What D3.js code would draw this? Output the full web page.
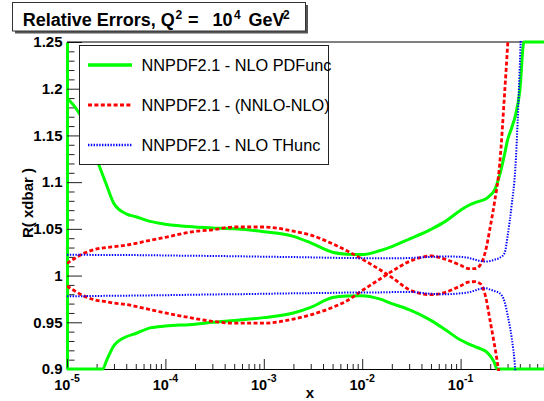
<!DOCTYPE html>
<html><head><meta charset="utf-8">
<script src="https://cdn.jsdelivr.net/npm/d3@7"></script>
<style>
body{margin:0;background:#fff}
svg{display:block}
text{font-family:"Liberation Sans",Arial,Helvetica,sans-serif}
</style>
</head><body>
<svg id="c" width="544" height="401"></svg>
<script>
// ---------- data ----------
const xGrid = [1e-5,1.5e-5,2e-5,2.5e-5,3e-5,4e-5,5e-5,7e-5,1e-4,2e-4,3e-4,5e-4,1e-3,2e-3,3e-3,5e-3,7e-3,1e-2,1.5e-2,2e-2,3e-2,5e-2,7e-2,0.1,0.12,0.14,0.16,0.18,0.2,0.22,0.25,0.28,0.3,0.33,0.36,0.4,0.45,0.5,0.7,1.0];
const pdfUpper = [1.190,1.163,1.125,1.098,1.077,1.066,1.063,1.058,1.055,1.052,1.051,1.050,1.047,1.042,1.035,1.025,1.0228,1.0225,1.0265,1.031,1.039,1.0495,1.058,1.070,1.075,1.078,1.080,1.082,1.086,1.091,1.108,1.13,1.145,1.158,1.171,1.198,1.262,1.40,1.9,2.5];
const pdfLower = [0.78,0.84,0.885,0.908,0.925,0.9345,0.938,0.944,0.946,0.948,0.950,0.952,0.955,0.960,0.966,0.9765,0.9782,0.9785,0.975,0.970,0.9635,0.952,0.942,0.931,0.927,0.924,0.9215,0.919,0.914,0.907,0.893,0.86,0.83,0.8,0.78,0.75,0.7,0.65,0.5,0.3];
const nnloA = [1.013,1.024,1.0285,1.030,1.031,1.0326,1.0345,1.0378,1.041,1.0473,1.049,1.052,1.052,1.0475,1.0433,1.034,1.0265,1.0175,1.0065,0.998,0.985,0.9795,0.982,0.989,0.993,0.9935,0.991,0.977,0.951,0.927,0.890,0.85,0.8,0.75,0.7,0.6,0.5,0.4,0.3,0.2];
const nnloB = [0.9888,0.978,0.9735,0.972,0.9705,0.969,0.967,0.9635,0.960,0.954,0.951,0.949,0.949,0.9535,0.958,0.966,0.973,0.984,0.996,1.0045,1.015,1.021,1.0175,1.011,1.0075,1.0075,1.012,1.027,1.052,1.077,1.120,1.195,1.245,1.32,1.4,1.5,1.6,1.7,2.0,2.5];
const thUpper = [1.0222,1.0222,1.0221,1.0221,1.022,1.022,1.0219,1.0218,1.0215,1.0212,1.021,1.0207,1.0202,1.0198,1.0195,1.019,1.0188,1.0186,1.0185,1.0185,1.0188,1.020,1.0205,1.020,1.019,1.017,1.0155,1.015,1.0155,1.017,1.019,1.024,1.042,1.075,1.115,1.226,1.4,1.6,2.0,2.5];
const thLower = [0.978,0.978,0.9782,0.9783,0.9784,0.9785,0.9786,0.9788,0.979,0.9795,0.9798,0.980,0.9805,0.981,0.9812,0.9815,0.9818,0.982,0.982,0.9823,0.9825,0.9805,0.980,0.981,0.982,0.984,0.986,0.9865,0.985,0.9835,0.981,0.972,0.958,0.934,0.898,0.8,0.7,0.6,0.4,0.2];

const yMajor = [0.9,0.95,1.0,1.05,1.1,1.15,1.2,1.25];
const yMajorLabels = ["0.9","0.95","1","1.05","1.1","1.15","1.2","1.25"];
const xDecades = [1e-5,1e-4,1e-3,1e-2,1e-1];
const xDecadeExp = ["-5","-4","-3","-2","-1"];
const legendLabels = ["NNPDF2.1 - NLO PDFunc","NNPDF2.1 - (NNLO-NLO)","NNPDF2.1 - NLO THunc"];
const titleText = "Relative Errors, Q";

// ---------- setup ----------
const svg = d3.select("#c");
const x = d3.scaleLog().domain([1e-5,1]).range([67,559]);
const y = d3.scaleLinear().domain([0.9,1.25]).range([369,42]);
const GREEN="#00ff00", RED="#ff0000", BLUE="#0000ff";
const FONT='"Liberation Sans",Arial,Helvetica,sans-serif';

svg.append("defs").append("clipPath").attr("id","frame")
  .append("rect").attr("x",x.range()[0]).attr("y",y(1.25)-2)
  .attr("width",x.range()[1]-x.range()[0]).attr("height",y(0.9)-y(1.25)+4);

// y axis minors
const yMinor = d3.range(0.9,1.2501,0.01).map(v=>+v.toFixed(2)).filter(v=>!yMajor.some(m=>Math.abs(m-v)<1e-6));
svg.append("g").attr("transform","translate(67,0)")
  .call(d3.axisLeft(y).tickValues(yMinor).tickSize(-7.5).tickSizeOuter(0).tickFormat(""))
  .call(g=>g.select(".domain").remove())
  .call(g=>g.selectAll("line").attr("stroke","#222"));
const yAx = svg.append("g").attr("transform","translate(67,0)")
  .call(d3.axisLeft(y).tickValues(yMajor).tickSize(-15).tickSizeOuter(0).tickPadding(4.5)
        .tickFormat((d,i)=>yMajorLabels[i]));
yAx.selectAll("line").attr("stroke","#222");
yAx.selectAll("text").attr("font-family",FONT).attr("font-weight","bold").attr("font-size",15).attr("fill","#000");
yAx.select(".domain").attr("stroke",GREEN).attr("stroke-width",3);

// x axis
const xMinor = [];
xDecades.forEach(d=>{for(let k=2;k<=9;k++) xMinor.push(d*k);});
svg.append("g").attr("transform","translate(0,369)")
  .call(d3.axisBottom(x).tickValues(xMinor).tickSize(-5).tickSizeOuter(0).tickFormat(""))
  .call(g=>g.select(".domain").remove())
  .call(g=>g.selectAll("line").attr("stroke","#222"));
const xAx = svg.append("g").attr("transform","translate(0,369)")
  .call(d3.axisBottom(x).tickValues(xDecades).tickSize(-10).tickSizeOuter(0).tickFormat(""));
xAx.selectAll("line").attr("stroke","#222");
xAx.select(".domain").attr("stroke","#000");

const xl = svg.append("g").selectAll("text").data(xDecades).join("text")
  .attr("x",d=>x(d)).attr("y",390).attr("text-anchor","middle")
  .attr("font-family",FONT).attr("font-weight","bold").attr("font-size",14.5);
xl.append("tspan").text("10");
xl.append("tspan").attr("dy",-8).attr("font-size",10.5).text((d,i)=>xDecadeExp[i]);

// top frame line
svg.append("line").attr("x1",x.range()[0]).attr("x2",x.range()[1])
  .attr("y1",y(1.25)).attr("y2",y(1.25)).attr("stroke","#000").attr("stroke-width",1);

// axis titles
svg.append("text").attr("x",310).attr("y",398).attr("text-anchor","middle")
  .attr("font-family",FONT).attr("font-weight","bold").attr("font-size",15).text("x");
svg.append("text").attr("transform","translate(33,203) rotate(-90)").attr("text-anchor","middle")
  .attr("font-family",FONT).attr("font-weight","bold").attr("font-size",15).text("R( xdbar )");

// ---------- curves ----------
// PDF band edges are drawn along the frame where they leave it (ROOT style);
// the other curves are simply clipped at the frame.
function framePts(xs, ys){
  const top=y(1.25), bot=y(0.9);
  const pts = xs.map((v,i)=>[x(v), y(ys[i])]);
  const out=[];
  const cl = p=>[p[0], Math.max(top, Math.min(bot, p[1]))];
  for(let i=0;i<pts.length;i++){
    if(i>0){
      const a=pts[i-1], b=pts[i];
      const cr=[];
      [top,bot].forEach(e=>{
        if((a[1]-e)*(b[1]-e)<0){const t=(e-a[1])/(b[1]-a[1]); cr.push([a[0]+t*(b[0]-a[0]),e,t]);}
      });
      cr.sort((p,q)=>p[2]-q[2]).forEach(c=>out.push([c[0],c[1]]));
    }
    out.push(cl(pts[i]));
  }
  return out;
}
const rawPts = (xs,ys)=>xs.map((v,i)=>[x(v),y(ys[i])]);
const line = d3.line().curve(d3.curveMonotoneX);
const series = [
  {ys:pdfUpper, color:GREEN, w:3, dash:null, clamp:true},
  {ys:pdfLower, color:GREEN, w:3, dash:null, clamp:true},
  {ys:nnloA, color:RED, w:2.8, dash:"4,2.4", clamp:false},
  {ys:nnloB, color:RED, w:2.8, dash:"4,2.4", clamp:false},
  {ys:thUpper, color:BLUE, w:2, dash:"1.4,1.4", clamp:false},
  {ys:thLower, color:BLUE, w:2, dash:"1.4,1.4", clamp:false},
];
svg.append("g").selectAll("path").data(series).join("path")
  .attr("d",s=>line(s.clamp?framePts(xGrid,s.ys):rawPts(xGrid,s.ys)))
  .attr("clip-path",s=>s.clamp?null:"url(#frame)")
  .attr("fill","none").attr("stroke",s=>s.color).attr("stroke-width",s=>s.w)
  .attr("stroke-dasharray",s=>s.dash);

// ---------- legend ----------
const lg = svg.append("g");
lg.append("rect").attr("x",79.5).attr("y",45.5).attr("width",249).attr("height",119)
  .attr("fill","#fff").attr("stroke","#222").attr("stroke-width",1);
const legStyles = [series[0],series[2],series[4]];
const ent = lg.selectAll("g.e").data(legendLabels).join("g").attr("class","e")
  .attr("transform",(d,i)=>`translate(0,${65+i*40})`);
ent.append("line").attr("x1",88).attr("x2",132).attr("y1",0).attr("y2",0)
  .attr("stroke",(d,i)=>legStyles[i].color).attr("stroke-width",(d,i)=>legStyles[i].w+0.4)
  .attr("stroke-dasharray",(d,i)=>legStyles[i].dash);
ent.append("text").attr("x",141.5).attr("y",5.8).attr("font-family",FONT)
  .attr("font-size",16.3).attr("fill","#000").text(d=>d);

// ---------- title box ----------
const tb = svg.append("g");
tb.append("rect").attr("x",15).attr("y",5).attr("width",293).attr("height",28.5).attr("fill","#555");
tb.append("rect").attr("x",12.5).attr("y",2.5).attr("width",293).attr("height",28.5)
  .attr("fill","#fff").attr("stroke","#333").attr("stroke-width",1);
const tt = tb.append("text").attr("font-family",FONT).attr("font-weight","bold").attr("font-size",18).attr("y",26);
tt.append("tspan").attr("x",22.7).text(titleText);
tt.append("tspan").attr("x",175.5).attr("y",18.5).attr("font-size",12).text("2");
tt.append("tspan").attr("x",188).attr("y",26).text("=");
tt.append("tspan").attr("x",212.5).attr("y",26).text("10");
tt.append("tspan").attr("x",234).attr("y",18.5).attr("font-size",12).text("4");
tt.append("tspan").attr("x",248.5).attr("y",26).text("GeV");
tt.append("tspan").attr("x",283).attr("y",18.5).attr("font-size",12).text("2");
</script>
</body></html>
